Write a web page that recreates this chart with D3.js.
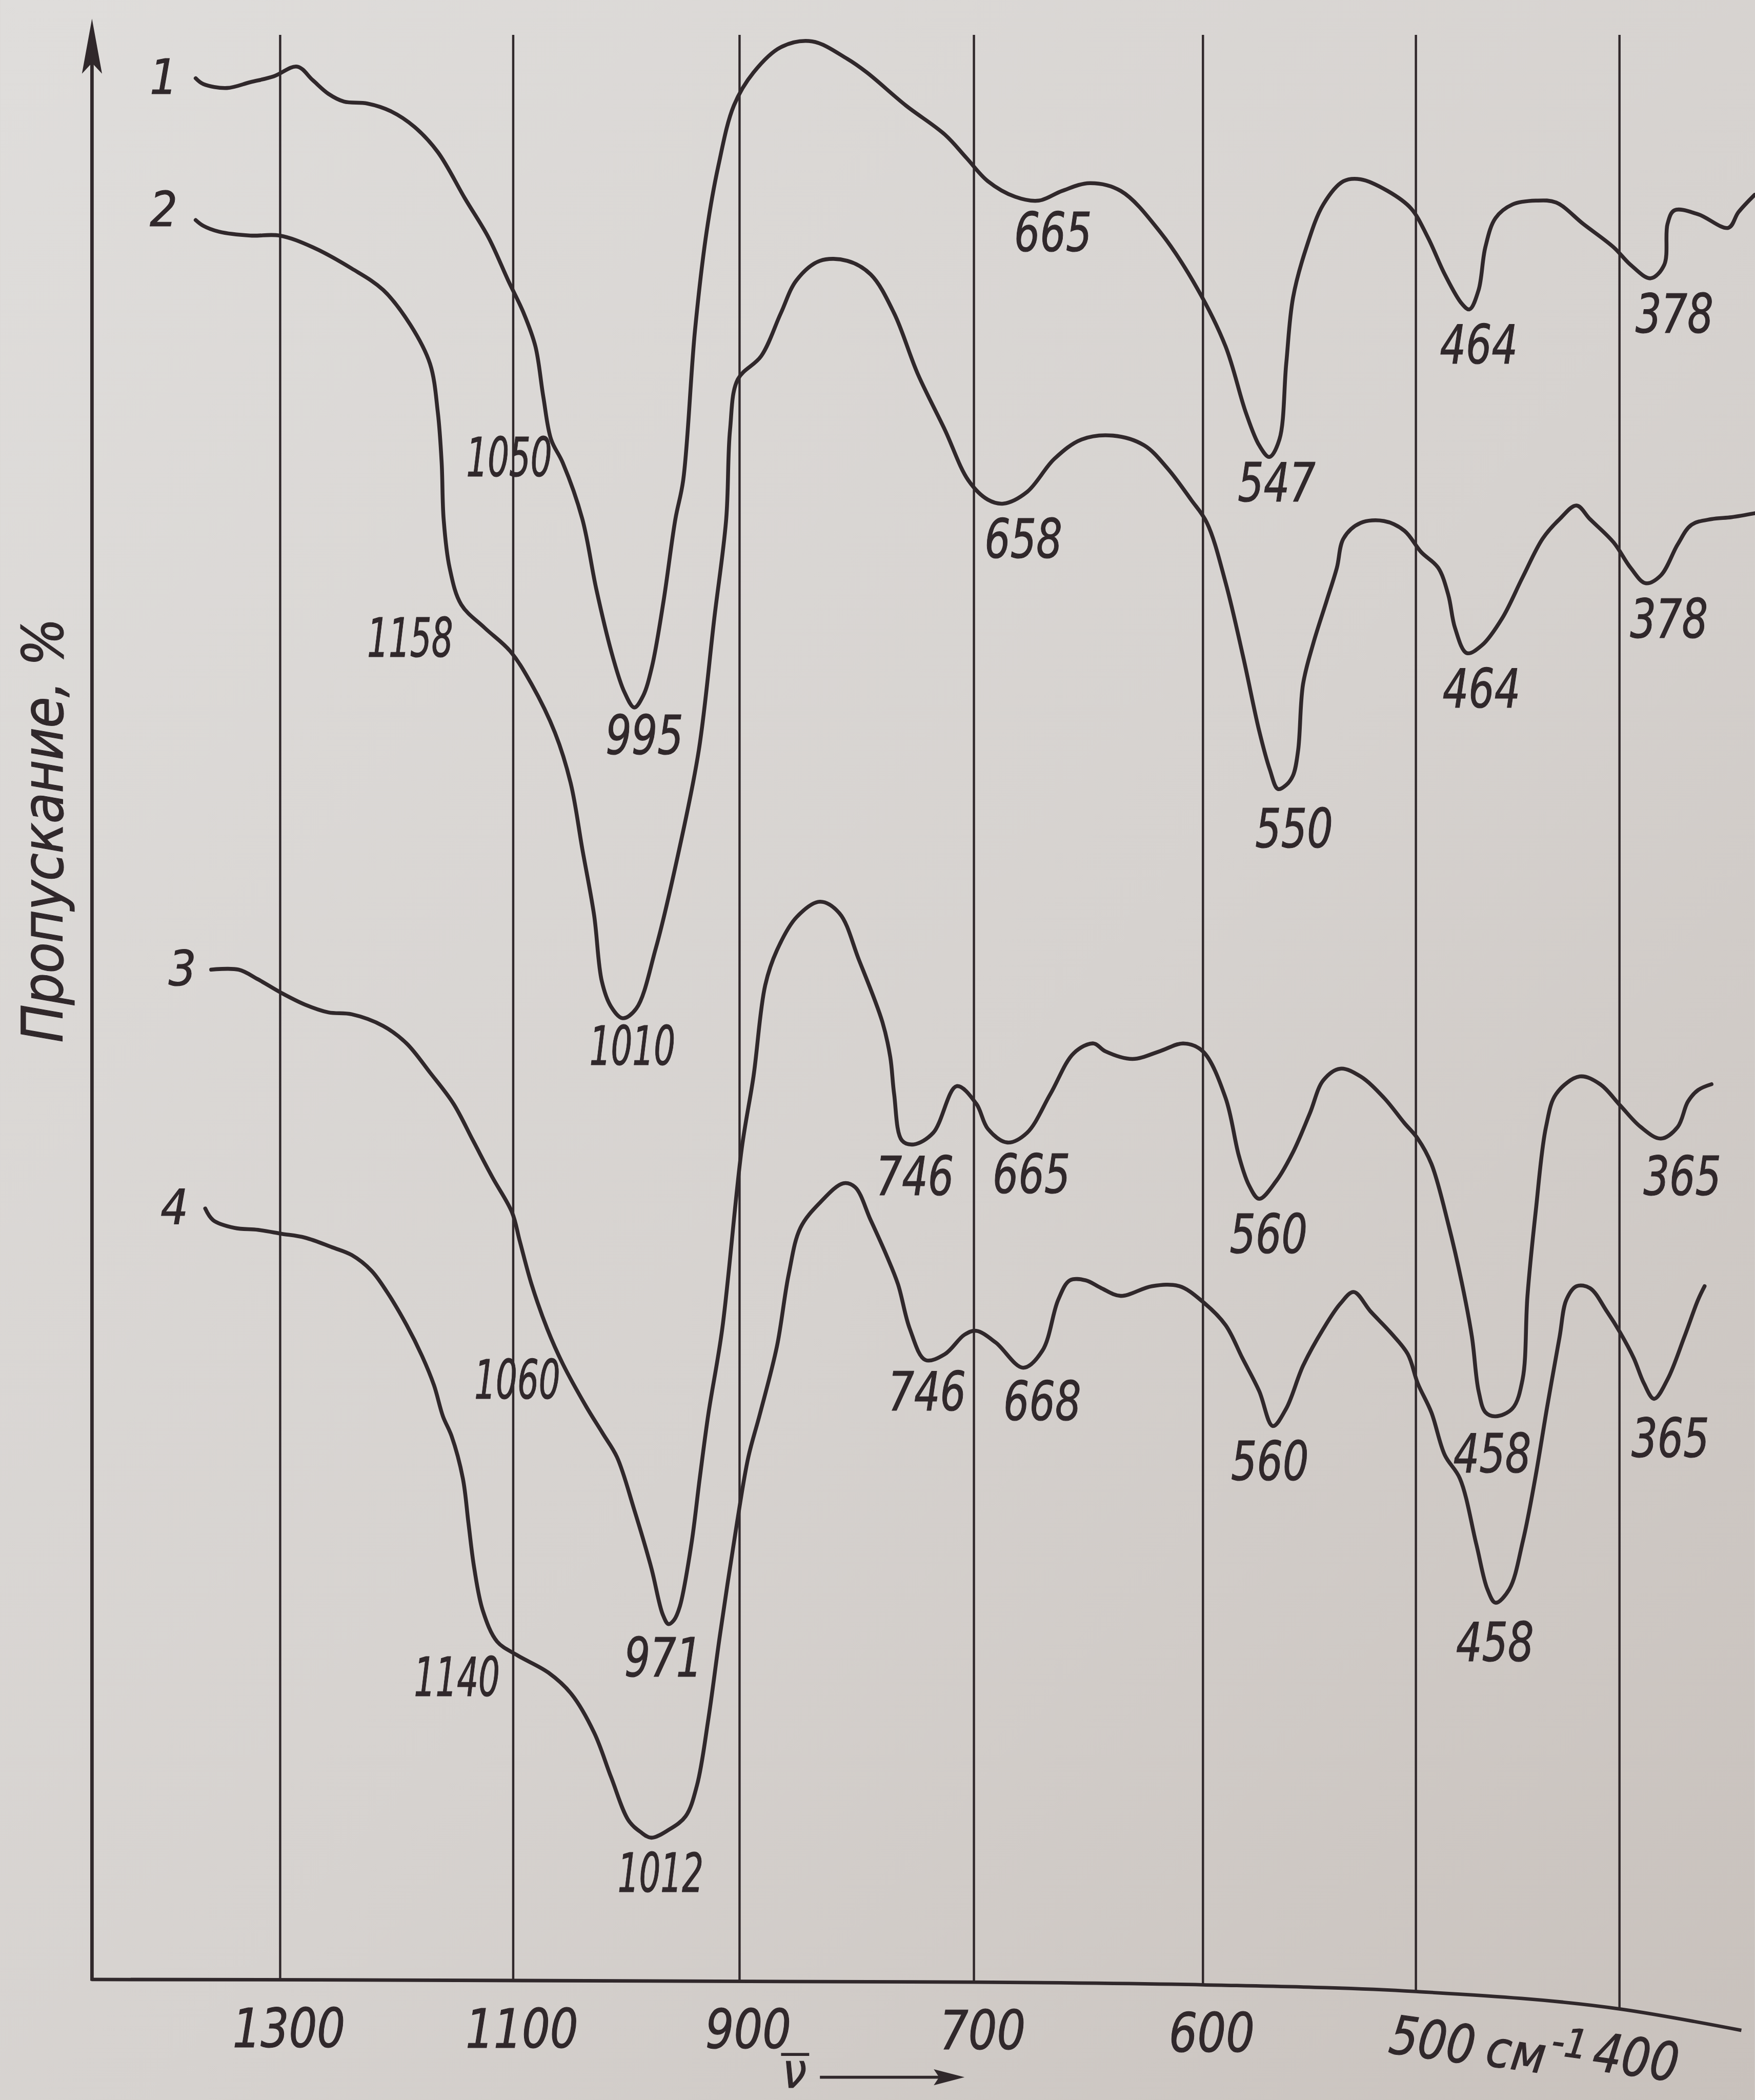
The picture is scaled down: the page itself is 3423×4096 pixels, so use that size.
<!DOCTYPE html>
<html>
<head>
<meta charset="utf-8">
<script src="https://cdn.jsdelivr.net/npm/d3@7"></script>
<style>
  html, body { margin: 0; padding: 0; background: #d8d5d2; }
  svg { display: block; }
  text { fill: #30282b; stroke: #30282b; stroke-width: 0.45px; font-family: "Liberation Sans Narrow", "DejaVu Sans Condensed", sans-serif; font-style: italic; }
</style>
</head>
<body>
<svg id="chart" width="3423" height="4096" viewBox="0 0 1310 1568"></svg>
<script>
// wavenumber (cm-1) grid and tick labels
var ticks = [1300, 1100, 900, 700, 600, 500, 400];

// spectra: [wavenumber, transmission %]
var curve1 = [[1372.5,97.9],[1365.9,97.6],[1345.7,97.4],[1325.6,97.7],[1305.5,98.0],[1285.4,98.5],[1272,97.8],[1258.6,97.1],[1245.2,96.7],[1225.1,96.6],[1204.9,96.2],[1184.8,95.4],[1164.7,94.1],[1141.3,91.7],[1121.2,89.7],[1104.4,87.5],[1090.7,85.8],[1080.4,84.1],[1073.4,81.5],[1066.5,79.3],[1056.2,78.1],[1038.9,75.2],[1026.6,71.6],[1012,68.1],[1001.8,66.3],[993,65.5],[985.2,66.1],[977.4,67.6],[967.1,71.0],[956.7,75.2],[949.8,77.2],[939.4,84.9],[929.1,90.0],[918.7,93.4],[905,96.5],[888.1,98.2],[864.8,99.5],[838.1,99.8],[808.1,98.9],[791.4,98.2],[758.1,96.5],[724.8,95.0],[706.4,93.8],[693.9,92.6],[682,91.8],[671.7,91.6],[661.5,92.1],[649.5,92.5],[635.9,92.1],[618.8,90.0],[602.6,87.1],[589.4,84.1],[579.9,80.7],[573.6,79.0],[568.8,78.4],[564.1,79.3],[560.9,83.2],[557.7,86.6],[551.4,89.2],[543.5,91.4],[534,92.6],[526,92.7],[513.3,92.1],[502.3,91.2],[494.1,89.7],[485.8,87.8],[477.5,86.3],[473.7,86.0],[469.2,87.0],[465.9,89.2],[460.9,90.7],[452.6,91.4],[441.1,91.6],[431.1,91.5],[417.8,90.4],[402.9,89.2],[394.6,88.3],[384.7,87.6],[378,88.3],[376.4,90.4],[373,91.1],[361.4,90.9],[346.5,90.2],[341.6,91.0],[333.6,91.9]];

var curve2 = [[1372.5,90.6],[1365.9,90.3],[1352.5,90.0],[1325.6,89.8],[1300.5,89.8],[1272,89.2],[1238.5,88.1],[1211.6,87.0],[1188.2,85.2],[1171.4,83.2],[1164.7,80.7],[1161.4,78.1],[1159.7,75.2],[1154.6,72.7],[1144.6,70.8],[1124.5,69.6],[1102.6,68.4],[1083.8,66.7],[1063.1,64.2],[1049.2,61.6],[1038.9,58.2],[1028.5,54.8],[1021.7,51.4],[1013.6,50.1],[1003.3,49.5],[991.2,50.0],[974,53.1],[953.3,58.2],[936,63.3],[922.3,70.1],[911.8,75.2],[908.4,79.8],[901.5,82.4],[881.5,83.6],[864.8,85.8],[851.4,87.5],[831.4,88.5],[808.1,88.5],[788.1,87.8],[768.1,85.8],[748.1,82.7],[724.8,79.8],[704.8,77.2],[693.9,76.2],[687.1,76.0],[676.8,76.6],[664.9,78.3],[653,79.3],[639.3,79.5],[625.7,79.0],[615.4,77.8],[605.2,76.2],[598.1,75.0],[589.3,71.9],[581.1,68.1],[573.6,64.3],[568.6,62.3],[564.8,61.3],[561,61.5],[557.7,62.0],[555.3,63.3],[553,66.7],[548.2,68.8],[541.9,71.0],[537.1,72.7],[534,74.2],[526,75.0],[515,75.1],[505.4,74.6],[497.4,73.5],[489.1,72.7],[484.1,71.3],[480.8,69.6],[475,68.3],[467.6,68.7],[457.6,70.1],[447.6,72.2],[437.7,74.2],[429.4,75.2],[421.1,75.9],[414.5,75.2],[402.9,74.0],[394.6,72.7],[387.2,71.9],[379.7,72.3],[371.4,73.9],[364.7,74.9],[354.8,75.2],[344.9,75.3],[333.6,75.5]];

var curve3 = [[1359.2,52.0],[1335.7,52.0],[1319,51.5],[1298.9,50.8],[1278.7,50.2],[1258.6,49.8],[1238.5,49.7],[1211.6,49.1],[1191.5,48.2],[1171.4,46.7],[1151.3,45.1],[1134.5,43.2],[1117.8,41.3],[1101,39.5],[1094.1,38.0],[1083.8,35.8],[1069.9,33.5],[1056.2,31.7],[1035.5,29.5],[1020.7,28.1],[1008.3,26.9],[993.1,24.2],[978,21.2],[967.9,18.8],[962.8,18.3],[958,18.5],[952.8,19.2],[942.6,22.4],[935.2,25.8],[927.6,29.1],[915.3,33.5],[898.1,42.8],[888.1,46.5],[878.1,51.2],[868.1,53.0],[851.4,54.7],[831.4,55.5],[814.7,54.9],[798.1,52.5],[778.1,49.3],[771.4,47.5],[768.1,45.6],[761.4,43.2],[751.4,43.0],[734.7,43.6],[714.7,46.0],[699,45.1],[693.9,43.8],[685.4,43.1],[676.8,43.6],[666.6,45.6],[656.4,47.7],[647.8,48.2],[642.7,47.8],[630.8,47.4],[618.8,47.8],[608.6,48.2],[600.1,47.8],[589.4,45.4],[583.1,42.4],[578.4,40.9],[573.6,40.2],[565.7,41.1],[557.7,42.6],[549.8,44.6],[543.5,46.3],[535.5,46.9],[526,46.5],[515,45.4],[505.4,44.1],[499.1,43.3],[492.4,42.0],[484.1,38.9],[477.5,35.9],[472.5,33.1],[469.2,30.3],[465.8,29.2],[460.9,29.0],[452.6,29.4],[447.6,30.9],[445.2,35.2],[441.1,39.6],[436.1,43.9],[431.1,45.6],[419.5,46.5],[409.5,46.1],[399.6,45.0],[389.6,43.9],[379.7,43.3],[371.4,43.9],[366.4,45.2],[361.4,45.8],[354.8,46.1]];

var curve4 = [[1364.3,39.7],[1357.5,39.1],[1339.1,38.7],[1319,38.6],[1298.9,38.4],[1278.7,38.2],[1255.3,37.7],[1238.5,37.3],[1221.7,36.5],[1208.3,35.4],[1191.5,33.7],[1178.2,32.1],[1168,30.6],[1160.3,29.0],[1153,28.0],[1143.2,25.8],[1138.4,23.5],[1133.5,21.2],[1126.1,19.0],[1113.8,17.4],[1096.6,16.7],[1068.9,15.8],[1048.6,14.7],[1028.4,12.7],[1013.4,10.4],[998.2,8.2],[987.6,7.6],[978,7.3],[962.8,7.7],[947.7,8.4],[937.6,10.0],[927.6,13.4],[917.4,17.7],[902.3,23.5],[892.5,26.9],[882.7,29.1],[868.1,32.6],[858.1,36.3],[848.1,38.7],[831.4,40.0],[811.4,41.0],[801.4,40.8],[788.1,39.1],[774.7,37.3],[764.8,35.8],[754.7,33.5],[741.4,31.9],[724.8,32.2],[708.1,33.2],[699,33.4],[690.5,32.8],[678.5,31.5],[670,32.4],[663.2,35.0],[658.1,36.0],[651.2,36.0],[644.4,35.6],[635.9,35.2],[622.3,35.7],[610.3,35.7],[600.1,34.9],[589.4,33.7],[581.5,32.0],[573.6,30.3],[567.2,28.5],[560.9,29.4],[553,31.6],[543.5,33.5],[535.5,34.8],[529.2,35.4],[521.3,34.4],[511.8,33.3],[503.8,32.2],[499.1,30.7],[492.4,29.2],[485.8,27.0],[478.4,25.8],[470.3,22.4],[464.9,20.1],[460.9,19.4],[454.1,20.1],[447.4,22.6],[441.4,25.8],[435.5,29.5],[429.4,33.1],[426.1,35.0],[421.1,35.7],[414.5,35.6],[406.2,34.4],[399.6,33.3],[393,32.0],[388,30.7],[383,29.9],[376.4,30.9],[368.1,33.1],[361.4,35.0],[358.2,35.7]];

// band labels: [text, wavenumber, transmission] of each label
var peaks1 = [["1050",1103.5,77.4],["995",984,63.1],["665",665.5,89.0],["547",565.4,76.1],["464",469.1,83.2],["378",373,84.8]];
var peaks2 = [["1158",1188.5,68.1],["1010",994.7,47.1],["658",678.4,73.2],["550",557.2,58.3],["464",467.8,65.5],["378",375.7,69.1]];
var peaks3 = [["1060",1096.4,29.9],["971",967.5,15.6],["746",750.3,40.4],["665",674.9,40.5],["560",569.2,37.4],["458",462.5,26.1],["365",369.1,40.4]];
var peaks4 = [["1140",1148.3,14.6],["1012",969.8,4.5],["746",740,29.3],["668",670.2,28.8],["560",568.6,25.7],["458",461.2,16.4],["365",375,26.9]];

var curveNames = ["1", "2", "3", "4"];
var namePos = [[1400,97.1],[1400,90.3],[1383.9,51.2],[1390.8,38.9]];

var svg = d3.select("#chart"),
    ink = "#30282b",
    axisX = 68.5,
    gridTop = 26;

var x = d3.scaleLinear().domain(ticks).range([209, 383, 552, 727, 898, 1057, 1209]);
var y = d3.scaleLinear().domain([0, 100]).range([1478, 28]);
// the printed page bends, so the baseline sags towards the right
var baseY = d3.scaleLinear().domain([68, 727, 898, 1057, 1209, 1300]).range([1478, 1480, 1482, 1487, 1500, 1516]);

// narrow drafting-style digits
function digitsWidth(s, w4, w3) { return s.length >= 4 ? w4 : (s.length === 3 ? w3 : null); }

var defs = svg.append("defs");
var grad = defs.append("linearGradient").attr("id", "paper")
    .attr("x1", 0).attr("y1", 0).attr("x2", 1).attr("y2", 1);
grad.append("stop").attr("offset", "0%").attr("stop-color", "#dfdddb");
grad.append("stop").attr("offset", "55%").attr("stop-color", "#d6d2cf");
grad.append("stop").attr("offset", "100%").attr("stop-color", "#c8c1bc");

svg.append("rect").attr("width", 1310).attr("height", 1568).attr("fill", "url(#paper)");

// vertical grid
svg.append("g").selectAll("line")
    .data(ticks)
    .enter().append("line")
    .attr("x1", function(d) { return x(d); })
    .attr("x2", function(d) { return x(d); })
    .attr("y1", gridTop)
    .attr("y2", function(d) { return baseY(x(d)); })
    .attr("stroke", ink)
    .attr("stroke-width", 1.7);

// y axis with arrow
svg.append("line")
    .attr("x1", axisX).attr("x2", axisX)
    .attr("y1", baseY(axisX) + 1).attr("y2", 40)
    .attr("stroke", ink).attr("stroke-width", 2.6);
svg.append("path")
    .attr("d", "M" + axisX + ",14 L" + (axisX - 7.5) + ",55 L" + axisX + ",47 L" + (axisX + 7.5) + ",55 Z")
    .attr("fill", ink);

// x axis (baseline)
var basePts = baseY.domain().map(function(v) { return [v, baseY(v)]; });
svg.append("path")
    .attr("d", d3.line().curve(d3.curveMonotoneX)(basePts))
    .attr("fill", "none").attr("stroke", ink).attr("stroke-width", 2.6);

// spectra
var line = d3.line()
    .x(function(d) { return x(d[0]); })
    .y(function(d) { return y(d[1]); })
    .curve(d3.curveCatmullRom.alpha(0.5));

svg.append("g").selectAll("path")
    .data([curve1, curve2, curve3, curve4])
    .enter().append("path")
    .attr("d", line)
    .attr("fill", "none")
    .attr("stroke", ink)
    .attr("stroke-width", 2.9)
    .attr("stroke-linejoin", "round")
    .attr("stroke-linecap", "round");

// band labels
var peaks = [].concat(peaks1, peaks2, peaks3, peaks4);
svg.append("g").selectAll("text")
    .data(peaks)
    .enter().append("text")
    .attr("x", function(d) { return x(d[1]); })
    .attr("y", function(d) { return y(d[2]); })
    .attr("text-anchor", "middle")
    .attr("textLength", function(d) { return digitsWidth(d[0], 64, 58); })
    .attr("lengthAdjust", "spacingAndGlyphs")
    .style("font-size", "40px")
    .text(function(d) { return d[0]; });

// curve numbers
svg.append("g").selectAll("text")
    .data(curveNames)
    .enter().append("text")
    .attr("x", function(d, i) { return x(namePos[i][0]); })
    .attr("y", function(d, i) { return y(namePos[i][1]); })
    .attr("text-anchor", "middle")
    .style("font-size", "36px")
    .text(function(d) { return d; });

// tick labels
var gx = svg.append("g")
    .call(d3.axisBottom(x).tickValues(ticks).tickSize(0).tickFormat(d3.format("d")));
gx.select(".domain").remove();
gx.attr("font-family", null).attr("font-size", null);
gx.selectAll(".tick text")
    .attr("y", 0)
    .attr("dy", 0)
    .attr("textLength", function(d) { return digitsWidth(String(d), 84, 64); })
    .attr("lengthAdjust", "spacingAndGlyphs")
    .attr("transform", function(d) {
        var t = "translate(" + (d <= 500 ? 10 : 6) + "," + (baseY(x(d)) + 50) + ")";
        return d <= 500 ? t + " rotate(8)" : t;
    })
    .style("font-size", "40px");

// unit
var ux = x(500) + 51, uy = baseY(x(500)) + 55;
var unit = svg.append("text")
    .attr("transform", "translate(" + ux + "," + uy + ") rotate(8)")
    .style("font-size", "38px");
unit.append("tspan").text("см");
unit.append("tspan").attr("dx", 3).attr("dy", -15).style("font-size", "30px").text("-1");

// nu with arrow
var nx = x(900) + 41;
svg.append("text")
    .attr("x", nx).attr("y", 1559)
    .attr("text-anchor", "middle")
    .style("font-size", "36px")
    .text("ν");
svg.append("line")
    .attr("x1", nx - 10).attr("x2", nx + 11)
    .attr("y1", 1534).attr("y2", 1534)
    .attr("stroke", ink).attr("stroke-width", 2.2);
svg.append("line")
    .attr("x1", nx + 19).attr("x2", nx + 115)
    .attr("y1", 1551).attr("y2", 1551)
    .attr("stroke", ink).attr("stroke-width", 2.2);
svg.append("path")
    .attr("d", "M" + (nx + 127) + ",1551 L" + (nx + 104) + ",1545 L" + (nx + 108) + ",1551 L" + (nx + 104) + ",1557 Z")
    .attr("fill", ink);

// y axis title
svg.append("text")
    .attr("transform", "translate(46.5,620) rotate(-90)")
    .attr("text-anchor", "middle")
    .attr("textLength", 317)
    .attr("lengthAdjust", "spacing")
    .style("font-size", "42px")
    .text("Пропускание, %");
</script>
</body>
</html>
